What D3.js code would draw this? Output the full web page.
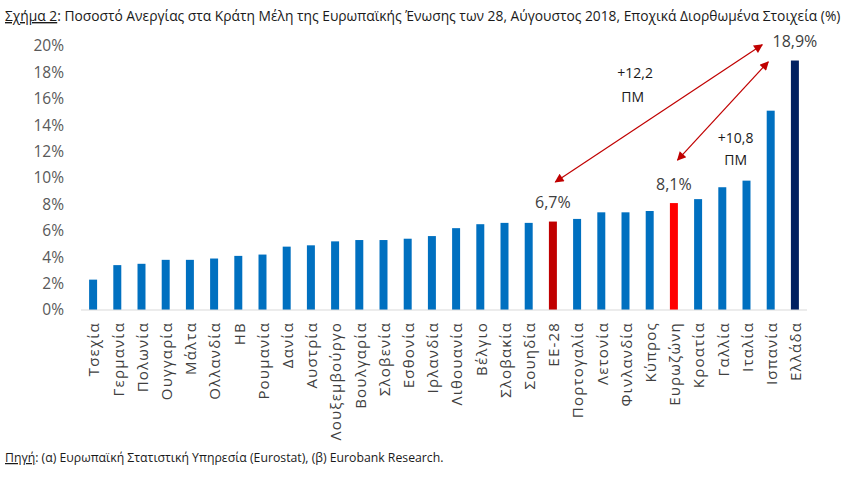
<!DOCTYPE html>
<html>
<head>
<meta charset="utf-8">
<script src="https://cdn.jsdelivr.net/npm/d3@7"></script>
<style>
  body { margin: 0; background: #fff; }
  #viz svg { display: block; }
</style>
</head>
<body>
<div id="viz"></div>
<script>
// categories and values (August 2018, %)
const categories = ["Τσεχία", "Γερμανία", "Πολωνία", "Ουγγαρία", "Μάλτα", "Ολλανδία", "ΗΒ",
    "Ρουμανία", "Δανία", "Αυστρία", "Λουξεμβούργο", "Βουλγαρία", "Σλοβενία", "Εσθονία",
    "Ιρλανδία", "Λιθουανία", "Βέλγιο", "Σλοβακία", "Σουηδία", "ΕΕ-28", "Πορτογαλία",
    "Λετονία", "Φινλανδία", "Κύπρος", "Ευρωζώνη", "Κροατία", "Γαλλία", "Ιταλία",
    "Ισπανία", "Ελλάδα"];
const values = [2.3, 3.4, 3.5, 3.8, 3.8, 3.9, 4.1, 4.2, 4.8, 4.9, 5.2, 5.3, 5.3, 5.4,
    5.6, 6.2, 6.5, 6.6, 6.6, 6.7, 6.9, 7.4, 7.4, 7.5, 8.1, 8.4, 9.3, 9.8, 15.1, 18.9];
const yTicks = [0, 2, 4, 6, 8, 10, 12, 14, 16, 18, 20];

// highlighted bars
const highlight = { "ΕΕ-28": "#C00000", "Ευρωζώνη": "#FF0000", "Ελλάδα": "#002060" };
const labelled = ["ΕΕ-28", "Ευρωζώνη", "Ελλάδα"];

// annotations in (category index, value) units
const arrows = [
    { from: [19.1, 9.7], to: [27.65, 20.1] },
    { from: [24.15, 11.35], to: [27.9, 18.8] }
];
const notes = [
    { at: [22.4, 17.95], text: "+12,2" },
    { at: [22.3, 16.1], text: "ΠΜ" },
    { at: [26.55, 13.0], text: "+10,8" },
    { at: [26.55, 11.35], text: "ΠΜ" }
];

const width = 850;
const height = 477;

const svg = d3.select("#viz")
    .append("svg")
    .attr("width", width)
    .attr("height", height)
    .style("font-family", "'Open Sans', sans-serif");

const x = d3.scaleBand()
    .domain(categories)
    .range([81, 807])
    .paddingInner(0.67)
    .paddingOuter(0.335);

const y = d3.scaleLinear()
    .domain([0, 20])
    .range([310, 46]);

const xAt = i => x(categories[0]) + x.bandwidth() / 2 + i * x.step();

// title
const title = svg.append("text")
    .attr("x", 5)
    .attr("y", 21)
    .attr("font-size", 13.8)
    .attr("fill", "#1a1a1a");
title.append("tspan").attr("text-decoration", "underline").text("Σχήμα 2");
title.append("tspan").text(": Ποσοστό Ανεργίας στα Κράτη Μέλη της Ευρωπαϊκής Ένωσης των 28, Αύγουστος 2018, Εποχικά Διορθωμένα Στοιχεία (%)");

// y axis labels
svg.append("g")
    .selectAll("text")
    .data(yTicks)
    .enter()
    .append("text")
    .attr("x", 64)
    .attr("y", d => y(d))
    .attr("dy", "0.35em")
    .attr("text-anchor", "end")
    .attr("font-size", 15.5)
    .attr("fill", "#595959")
    .text(d => d + "%");

// bars
svg.append("g")
    .selectAll("rect")
    .data(categories)
    .enter()
    .append("rect")
    .attr("x", d => x(d))
    .attr("width", x.bandwidth())
    .attr("y", (d, i) => y(values[i]))
    .attr("height", (d, i) => y(0) - y(values[i]))
    .attr("fill", d => highlight[d] || "#0070C0");

// baseline
svg.append("line")
    .attr("x1", x.range()[0])
    .attr("x2", x.range()[1])
    .attr("y1", y(0))
    .attr("y2", y(0))
    .attr("stroke", "#D9D9D9")
    .attr("stroke-width", 1);

// category labels
svg.append("g")
    .selectAll("text")
    .data(categories)
    .enter()
    .append("text")
    .attr("transform", d => `translate(${x(d) + x.bandwidth() / 2 + 1},322) rotate(-90)`)
    .attr("dy", "0.35em")
    .attr("text-anchor", "end")
    .attr("font-size", 15)
    .attr("letter-spacing", 1.2)
    .attr("fill", "#404040")
    .text(d => d);

// value labels
svg.append("g")
    .selectAll("text")
    .data(labelled)
    .enter()
    .append("text")
    .attr("x", d => x(d) + x.bandwidth() / 2)
    .attr("y", d => y(values[categories.indexOf(d)]) - 19)
    .attr("dy", "0.35em")
    .attr("text-anchor", "middle")
    .attr("font-size", 16)
    .attr("fill", "#404040")
    .text(d => values[categories.indexOf(d)].toFixed(1).replace(".", ",") + "%");

// arrows
const defs = svg.append("defs");
["start", "end"].forEach(k => {
    defs.append("marker")
        .attr("id", "head-" + k)
        .attr("viewBox", "0 0 10 10")
        .attr("refX", k === "end" ? 9 : 1)
        .attr("refY", 5)
        .attr("markerWidth", 11)
        .attr("markerHeight", 9)
        .attr("markerUnits", "userSpaceOnUse")
        .attr("orient", "auto")
        .append("path")
        .attr("d", k === "end" ? "M0,0L10,5L0,10Z" : "M10,0L0,5L10,10Z")
        .attr("fill", "#C00000");
});

svg.append("g")
    .selectAll("line")
    .data(arrows)
    .enter()
    .append("line")
    .attr("x1", d => xAt(d.from[0]))
    .attr("y1", d => y(d.from[1]))
    .attr("x2", d => xAt(d.to[0]))
    .attr("y2", d => y(d.to[1]))
    .attr("stroke", "#C00000")
    .attr("stroke-width", 1.2)
    .attr("marker-start", "url(#head-start)")
    .attr("marker-end", "url(#head-end)");

svg.append("g")
    .selectAll("text")
    .data(notes)
    .enter()
    .append("text")
    .attr("x", d => xAt(d.at[0]))
    .attr("y", d => y(d.at[1]))
    .attr("dy", "0.35em")
    .attr("text-anchor", "middle")
    .attr("font-size", 14)
    .attr("fill", "#1a1a1a")
    .text(d => d.text);

// source
const source = svg.append("text")
    .attr("x", 5)
    .attr("y", 462)
    .attr("font-size", 12.25)
    .attr("fill", "#1a1a1a");
source.append("tspan").attr("text-decoration", "underline").text("Πηγή");
source.append("tspan").text(": (α) Ευρωπαϊκή Στατιστική Υπηρεσία (Eurostat), (β) Eurobank Research.");
</script>
</body>
</html>
